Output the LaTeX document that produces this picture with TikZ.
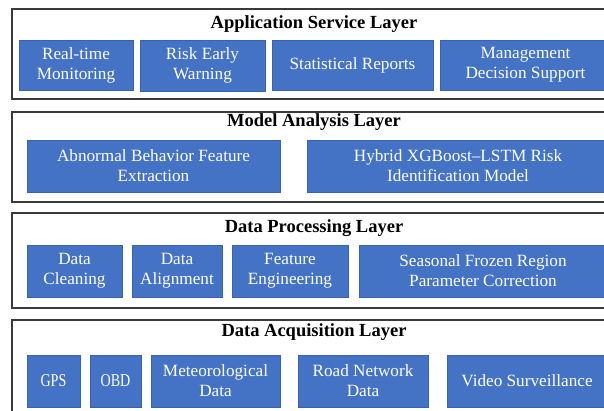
\documentclass[tikz,border=0pt]{standalone}
\usepackage{fontspec}
\setmainfont{LiberationSerif}[Extension=.ttf,UprightFont=*-Regular,BoldFont=*-Bold,ItalicFont=*-Italic,BoldItalicFont=*-BoldItalic]
\definecolor{boxblue}{HTML}{4472C4}
\definecolor{edgeblue}{HTML}{3A63AE}
\definecolor{frame}{HTML}{3A3A3A}
\begin{document}
\begin{tikzpicture}[x=1pt,y=-1pt,
  layerbox/.style={draw=frame,line width=1.3pt,fill=white,rectangle,inner sep=0pt},
  layertitle/.style={font=\fontsize{18.5}{21}\selectfont\bfseries,inner sep=0pt},
  bluebox/.style={draw=edgeblue,line width=0.7pt,fill=boxblue,rectangle,inner sep=0pt,
    text=white,align=center,font=\fontsize{17.2}{20}\selectfont}]
\useasboundingbox (0,0) rectangle (604,410);
\fill[white] (0,0) rectangle (604,410);
\clip (0,0) rectangle (604,410);
% layers
\node[layerbox,minimum width=604pt,minimum height=90pt] (L1) at (314,54) {};
\node[layerbox,minimum width=604pt,minimum height=90pt] (L2) at (314,157) {};
\node[layerbox,minimum width=604pt,minimum height=95pt] (L3) at (314,260.5) {};
\node[layerbox,minimum width=604pt,minimum height=110pt] (L4) at (314,375) {};
% titles
\node[layertitle] (T1) at (314,24) {Application Service Layer};
\node[layertitle] (T2) at (314,122.5) {Model Analysis Layer};
\node[layertitle] (T3) at (314,228) {Data Processing Layer};
\node[layertitle] (T4) at (314,332.5) {Data Acquisition Layer};
% application layer
\node[bluebox,minimum width=114pt,minimum height=50pt] (RT) at (76,65) {Real-time\\Monitoring};
\node[bluebox,minimum width=125pt,minimum height=51pt] (RW) at (202.5,65.5) {Risk Early\\Warning};
\node[bluebox,minimum width=161pt,minimum height=50pt] (SR) at (352.5,65) {Statistical Reports};
\node[bluebox,minimum width=171pt,minimum height=50pt] (MD) at (525.5,65) {Management\\Decision Support};
% model layer
\node[bluebox,minimum width=253pt,minimum height=52pt] (AB) at (153.5,166) {Abnormal Behavior Feature\\Extraction};
\node[bluebox,minimum width=302pt,minimum height=52pt] (HY) at (458,166) {Hybrid XGBoost–LSTM Risk\\Identification Model};
% processing layer
\node[bluebox,minimum width=95pt,minimum height=52pt] (DC) at (74.5,271) {Data\\Cleaning};
\node[bluebox,minimum width=90pt,minimum height=52pt] (DA) at (177,271) {Data\\Alignment};
\node[bluebox,minimum width=116pt,minimum height=52pt] (FE) at (290,271) {Feature\\Engineering};
\node[bluebox,minimum width=248pt,minimum height=52pt] (SF) at (483,271) {Seasonal Frozen Region\\Parameter Correction};
% acquisition layer
\node[bluebox,minimum width=53pt,minimum height=52pt] (GPS) at (53.5,381) {\scalebox{0.82}[1.05]{GPS}};
\node[bluebox,minimum width=51pt,minimum height=52pt] (OBD) at (115.5,381) {\scalebox{0.82}[1.05]{OBD}};
\node[bluebox,minimum width=129pt,minimum height=52pt] (MET) at (215.5,381) {Meteorological\\Data};
\node[bluebox,minimum width=130pt,minimum height=52pt] (RN) at (363,381) {Road Network\\Data};
\node[bluebox,minimum width=160pt,minimum height=52pt] (VS) at (527,381) {Video Surveillance};
\end{tikzpicture}
\end{document}
